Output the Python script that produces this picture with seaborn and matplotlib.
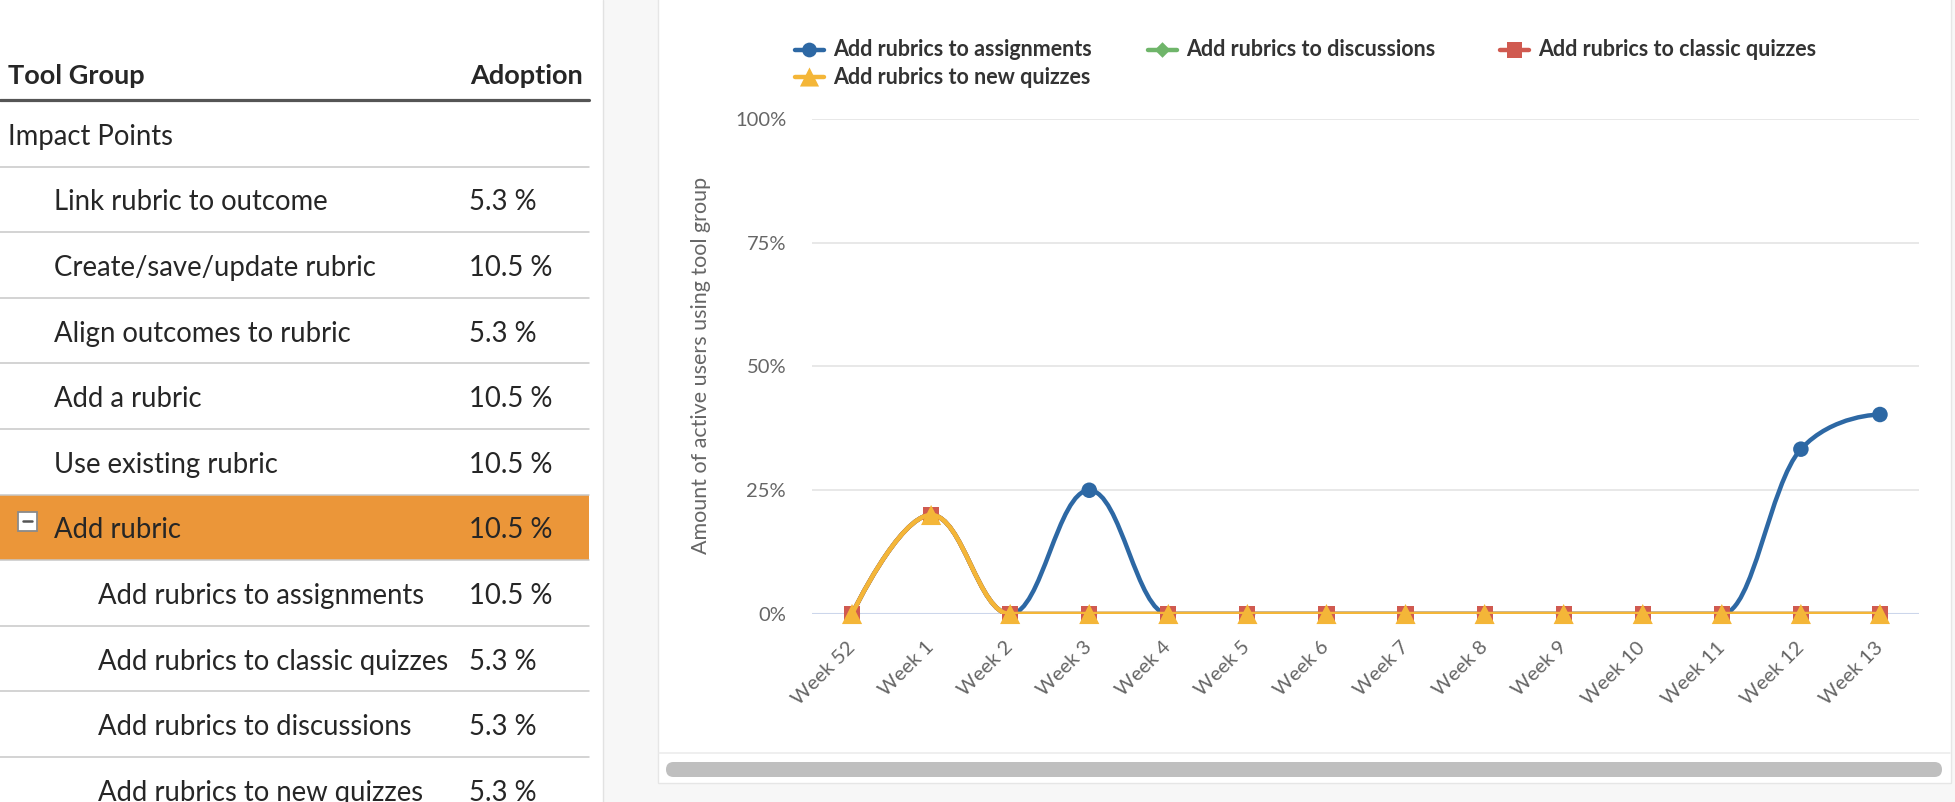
import matplotlib
matplotlib.use('Agg')
import matplotlib.pyplot as plt
import seaborn as sns
from matplotlib.path import Path
from matplotlib.patches import PathPatch, Rectangle, FancyBboxPatch
from matplotlib.lines import Line2D

# data
weeks = ['Week 52', 'Week 1', 'Week 2', 'Week 3', 'Week 4', 'Week 5', 'Week 6',
         'Week 7', 'Week 8', 'Week 9', 'Week 10', 'Week 11', 'Week 12', 'Week 13']
assignments = [0, 20, 0, 25, 0, 0, 0, 0, 0, 0, 0, 0, 33.3, 40.3]
discussions = [0, 20, 0, 0, 0, 0, 0, 0, 0, 0, 0, 0, 0, 0]
classic_quizzes = [0, 20, 0, 0, 0, 0, 0, 0, 0, 0, 0, 0, 0, 0]
new_quizzes = [0, 20, 0, 0, 0, 0, 0, 0, 0, 0, 0, 0, 0, 0]

tool_groups = ['Impact Points', 'Link rubric to outcome', 'Create/save/update rubric',
               'Align outcomes to rubric', 'Add a rubric', 'Use existing rubric', 'Add rubric',
               'Add rubrics to assignments', 'Add rubrics to classic quizzes',
               'Add rubrics to discussions', 'Add rubrics to new quizzes']
tool_levels = [0, 1, 1, 1, 1, 1, 1, 2, 2, 2, 2]
adoption = ['', '5.3 %', '10.5 %', '5.3 %', '10.5 %', '10.5 %', '10.5 %',
            '10.5 %', '5.3 %', '5.3 %', '5.3 %']
selected_row = 'Add rubric'

series = [
    ('Add rubrics to assignments', assignments, '#2D68A4', 'o', 125),
    ('Add rubrics to discussions', discussions, '#6FB56A', 'D', 70),
    ('Add rubrics to classic quizzes', classic_quizzes, '#D05A50', 's', 135),
    ('Add rubrics to new quizzes', new_quizzes, '#F4B638', '^', 210),
]

sns.set_style('white')
plt.rcParams['font.family'] = ['Lato', 'DejaVu Sans']

W, H = 1956, 802
fig = plt.figure(figsize=(W / 100, H / 100), dpi=100)

# background / table layer in pixel coordinates
bg = fig.add_axes([0, 0, 1, 1], zorder=0)
bg.set_xlim(0, W)
bg.set_ylim(H, 0)
bg.axis('off')

bg.add_patch(Rectangle((603, 0), W - 603, H, color='#F7F7F7', lw=0))
bg.plot([603, 603], [0, H], color='#E2E2E2', lw=1)
bg.add_patch(Rectangle((658, -5), 1951 - 658, 788, facecolor='white', edgecolor='#E6E6E6', lw=1))
bg.plot([659, 1950], [753, 753], color='#ECECEC', lw=1.2)
bg.add_patch(FancyBboxPatch((666, 762), 1942 - 666, 15,
                            boxstyle='round,pad=0,rounding_size=7.5',
                            facecolor='#BFBFBF', edgecolor='none'))

# table
txt = '#262626'
bg.text(8, 76, 'Tool Group', fontsize=19.5, fontweight='bold', color=txt, va='center')
bg.text(583, 76, 'Adoption', fontsize=19.5, fontweight='bold', color=txt, va='center', ha='right')
bg.plot([0, 589], [100, 100], color='#555555', lw=2.3)

row_h = 65.6
top = 101
indent = {0: 8, 1: 54, 2: 98}
for i, (name, lvl, val) in enumerate(zip(tool_groups, tool_levels, adoption)):
    y0 = top + i * row_h
    if name == selected_row:
        bg.add_patch(Rectangle((0, y0), 589, row_h, color='#EB9639', lw=0))
        bg.add_patch(Rectangle((17.5, y0 + 17), 19, 19, facecolor='white', edgecolor='#8A8A8A', lw=1.3))
        bg.plot([23, 31.5], [y0 + 26.5, y0 + 26.5], color='#555555', lw=1.8)
    bg.text(indent[lvl], y0 + row_h / 2 + 3, name, fontsize=19.8, color=txt, va='center')
    bg.text(469, y0 + row_h / 2 + 3, val, fontsize=19.8, color=txt, va='center')
    if i < len(tool_groups) - 1:
        bg.plot([0, 589], [y0 + row_h, y0 + row_h], color='#C8C8C8', lw=1.1)

# legend (fixed width items)
leg_pos = [(795, 50), (1148, 50), (1500, 50), (795, 77)]
for (label, _, color, marker, s), (lx, ly) in zip(series, leg_pos):
    bg.add_line(Line2D([lx, lx + 29], [ly, ly], color=color, lw=3.2))
    bg.scatter([lx + 14.5], [ly], marker=marker, s=s * 0.9, color=color, edgecolor='none', zorder=3)
    bg.text(lx + 38, ly, label, fontsize=15.5, fontweight='bold', color='#333333', va='center')


def spline_path(xs, ys):
    # highcharts-like spline through the points
    n = len(xs)
    right = [None] * n
    verts = [(xs[0], ys[0])]
    codes = [Path.MOVETO]
    sm, den = 1.5, 2.5
    for i in range(1, n):
        x, y = xs[i], ys[i]
        lx, ly = x, y
        if i < n - 1:
            px, py = xs[i - 1], ys[i - 1]
            nx, ny = xs[i + 1], ys[i + 1]
            lcx, lcy = (sm * x + px) / den, (sm * y + py) / den
            rcx, rcy = (sm * x + nx) / den, (sm * y + ny) / den
            if rcx != lcx:
                corr = (rcy - lcy) * (rcx - x) / (rcx - lcx) + y - rcy
                lcy += corr
                rcy += corr
            if lcy > max(py, y):
                lcy = max(py, y); rcy = 2 * y - lcy
            elif lcy < min(py, y):
                lcy = min(py, y); rcy = 2 * y - lcy
            if rcy > max(y, ny):
                rcy = max(y, ny); lcy = 2 * y - rcy
            elif rcy < min(y, ny):
                rcy = min(y, ny); lcy = 2 * y - rcy
            lx, ly = lcx, lcy
            right[i] = (rcx, rcy)
        c1 = right[i - 1] if right[i - 1] else (xs[i - 1], ys[i - 1])
        verts += [c1, (lx, ly), (x, y)]
        codes += [Path.CURVE4] * 3
    return Path(verts, codes)


# chart
x0, x1 = 812.5, 1919.5
y_top, y_zero = 119, 614
ax = fig.add_axes([x0 / W, 1 - y_zero / H, (x1 - x0) / W, (y_zero - y_top) / H], zorder=2)
ax.set_facecolor('none')
xs = list(range(len(weeks)))
ax.set_xlim(-0.5, len(weeks) - 0.5)
ax.set_ylim(0, 100)
ax.set_yticks([0, 25, 50, 75, 100])
ax.set_yticklabels([f'{v}%' for v in [0, 25, 50, 75, 100]])
for v in [25, 50, 75, 100]:
    ax.axhline(v, color='#E6E6E6', lw=1.3, zorder=0)
ax.axhline(0, color='#CCD6EB', lw=1.5, zorder=0)

for k, (label, vals, color, marker, s) in enumerate(series):
    ax.add_patch(PathPatch(spline_path(xs, vals), facecolor='none', edgecolor=color,
                           lw=3.2, zorder=3 + k, capstyle='round', joinstyle='round'))
    sns.scatterplot(x=xs, y=vals, ax=ax, marker=marker, s=s, color=color,
                    edgecolor='none', zorder=3 + k + 0.5, clip_on=False, legend=False)

ax.set_xticks(xs)
ax.set_xticklabels(weeks, rotation=45, ha='right', va='center', rotation_mode='anchor')
ax.tick_params(axis='x', length=0, pad=22, labelsize=14.5, labelcolor='#666666')
ax.tick_params(axis='y', length=0, pad=19, labelsize=14.5, labelcolor='#666666')
ax.set_ylabel('Amount of active users using tool group', fontsize=15.5, color='#666666', labelpad=0)
ax.yaxis.set_label_coords((711 - x0) / (x1 - x0), 0.5 - (365 - (y_top + y_zero) / 2) / (y_zero - y_top))
for sp in ax.spines.values():
    sp.set_visible(False)
ax.grid(False)

fig.savefig('out.png', dpi=100)
